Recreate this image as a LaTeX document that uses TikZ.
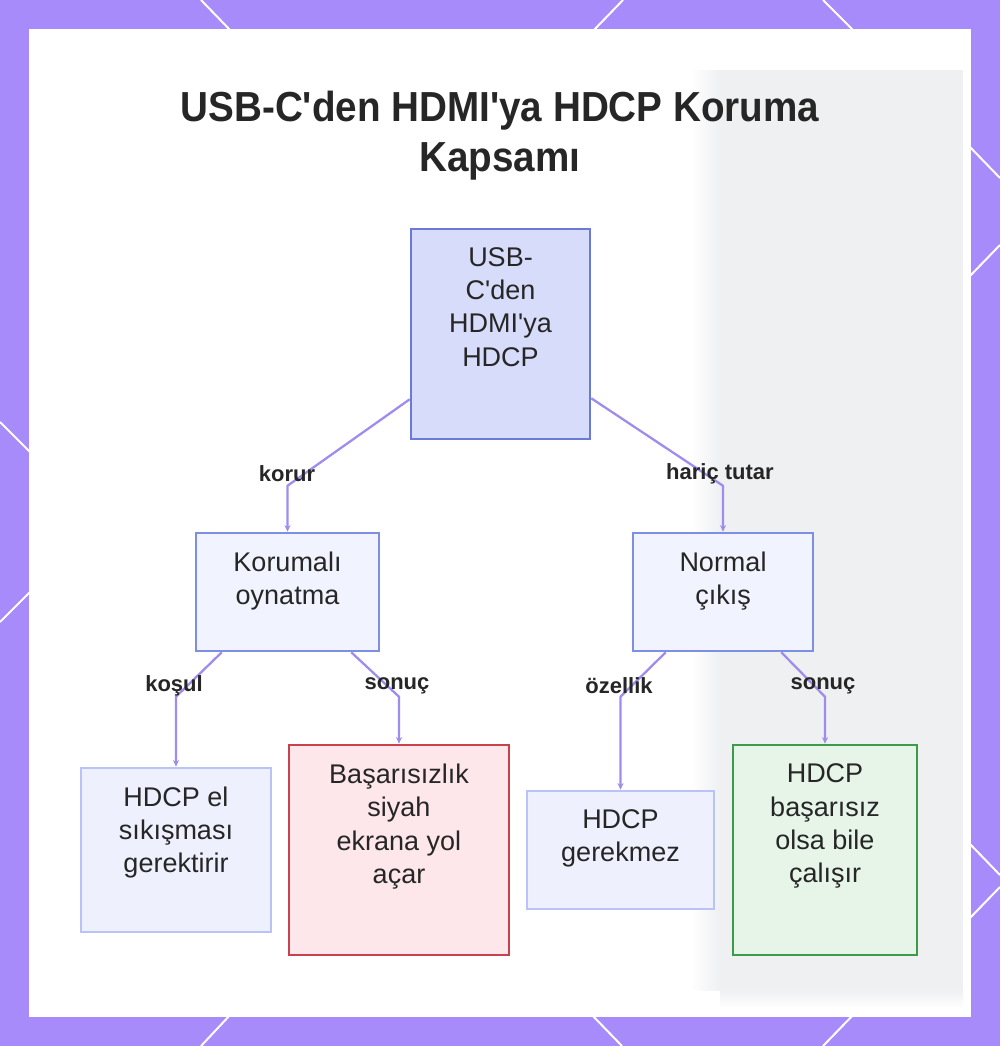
\documentclass[tikz,border=0pt]{standalone}
\usepackage{fontspec}
\setmainfont{Liberation Sans}[Ligatures=TeXOff]
\newfontfamily\titlefont{Liberation Sans}[FakeStretch=0.92,Ligatures=TeXOff]
\usetikzlibrary{arrows.meta,fit,calc}
\definecolor{bgpurple}{HTML}{A78BFA}
\definecolor{ghost}{HTML}{EFF0F1}
\definecolor{textc}{HTML}{262626}
\definecolor{connc}{HTML}{A08BEF}
\definecolor{rootfill}{HTML}{D8DCFB}
\definecolor{rootdraw}{HTML}{6B7AD6}
\definecolor{midfill}{HTML}{F1F3FE}
\definecolor{middraw}{HTML}{7D8FE4}
\definecolor{leaffill}{HTML}{EEF1FD}
\definecolor{leafdraw}{HTML}{B9C3F5}
\definecolor{badfill}{HTML}{FDE7EA}
\definecolor{baddraw}{HTML}{C8414F}
\definecolor{goodfill}{HTML}{E7F5E9}
\definecolor{gooddraw}{HTML}{3C9B4A}
\begin{document}
\begin{tikzpicture}[x=0.75pt,y=-0.75pt,
  boxbase/.style={draw, line width=1.9pt, inner sep=0pt},
  rootbox/.style={boxbase, draw=rootdraw, fill=rootfill},
  midbox/.style={boxbase, draw=middraw, fill=midfill},
  leafbox/.style={boxbase, draw=leafdraw, fill=leaffill},
  badbox/.style={boxbase, draw=baddraw, fill=badfill},
  goodbox/.style={boxbase, draw=gooddraw, fill=goodfill},
  txt/.style={anchor=north, align=center, inner sep=0pt, text=textc,
    font=\fontsize{20.25pt}{25pt}\selectfont},
  lbl/.style={inner sep=0pt, text=textc, font=\fontsize{16.5pt}{20pt}\selectfont\bfseries},
  conn/.style={draw=connc, line width=1.7pt, line join=round,
    -{Stealth[length=5pt,width=4.5pt]}},
  deco/.style={draw=white, line width=1.5pt}
]
\useasboundingbox (0,0) rectangle (1000,1046);
% border
\fill[bgpurple] (0,0) rectangle (1000,1046);
\draw[deco] (201,0) -- (231,31);
\draw[deco] (623,0) -- (593,31);
\draw[deco] (823,0) -- (854,31);
\draw[deco] (231,1014) -- (201,1046);
\draw[deco] (591,1014) -- (622,1046);
\draw[deco] (854,1014) -- (823,1046);
\draw[deco] (0,422) -- (32,454);
\draw[deco] (32,590) -- (0,622);
\draw[deco] (968,145) -- (1000,178);
\draw[deco] (968,278) -- (1000,245);
\draw[deco] (968,842) -- (1000,875);
\draw[deco] (968,920) -- (1000,887);
% panel
\fill[white] (29,29) rectangle (971,1017);
\shade[left color=white, right color=ghost] (690,70) rectangle (720,990);
\fill[ghost] (720,70) rectangle (963,990);
\shade[top color=ghost, bottom color=white] (720,990) rectangle (963,1008);
% title
\node[anchor=north, align=center, inner sep=0pt, text=textc,
  font=\titlefont\bfseries\fontsize{31.5pt}{37pt}\selectfont] (title) at (500,91)
  {USB-C'den HDMI'ya HDCP Koruma\\Kapsamı};
% boxes
\node[rootbox, fit={(411,229) (590,439)}] (root) {};
\node[midbox, fit={(196,533) (379,651)}] (prot) {};
\node[midbox, fit={(633,533) (813,651)}] (norm) {};
\node[leafbox, fit={(81,768) (271,932)}] (hs) {};
\node[badbox, fit={(289,745) (509,955)}] (fail) {};
\node[leafbox, fit={(527,791) (714,909)}] (nreq) {};
\node[goodbox, fit={(733,745) (917,955)}] (works) {};
% box texts
\node[txt] (roott) at ([yshift=-14.5pt]root.north) {USB-\\C'den\\HDMI'ya\\HDCP};
\node[txt] (prott) at ([yshift=-14.75pt]prot.north) {Korumalı\\oynatma};
\node[txt] (normt) at ([yshift=-14.75pt]norm.north) {Normal\\çıkış};
\node[txt] (hst) at ([yshift=-14.75pt]hs.north) {HDCP el\\sıkışması\\gerektirir};
\node[txt] (failt) at ([yshift=-15pt]fail.north) {Başarısızlık\\siyah\\ekrana yol\\açar};
\node[txt] (nreqt) at ([yshift=-14.75pt]nreq.north) {HDCP\\gerekmez};
\node[txt] (workst) at ([yshift=-15pt]works.north) {HDCP\\başarısız\\olsa bile\\çalışır};
% connectors
\draw[conn] ([yshift=30.75pt]root.south west) -- ([yshift=34.5pt]prot.north) -- (prot.north);
\draw[conn] ([yshift=31.5pt]root.south east) -- ([yshift=34.5pt]norm.north) -- (norm.north);
\draw[conn] ([xshift=20.25pt]prot.south west) -- ([yshift=52.5pt]hs.north) -- (hs.north);
\draw[conn] ([xshift=-21.75pt]prot.south east) -- ([yshift=35.25pt]fail.north) -- (fail.north);
\draw[conn] ([xshift=25.5pt]norm.south west) -- ([yshift=69.75pt]nreq.north) -- (nreq.north);
\draw[conn] ([xshift=-24.75pt]norm.south east) -- ([yshift=35.25pt]works.north) -- (works.north);
% labels
\node[lbl] (l1) at (287,474) {korur};
\node[lbl] (l2) at (720,474) {hariç tutar};
\node[lbl] (l3) at (174,686) {koşul};
\node[lbl] (l4) at (397,686) {sonuç};
\node[lbl] (l5) at (619,686) {özellik};
\node[lbl] (l6) at (823,686) {sonuç};
\end{tikzpicture}
\end{document}
